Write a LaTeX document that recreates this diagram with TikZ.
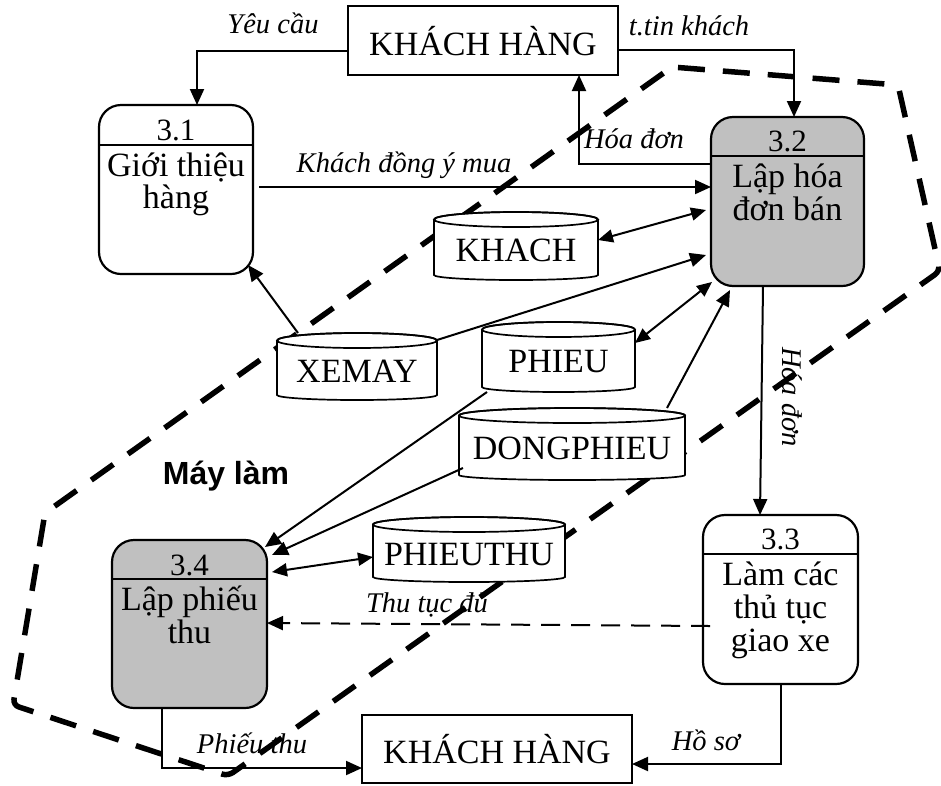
\documentclass[tikz,border=0pt]{standalone}
\usepackage{fontspec}
\setmainfont{Liberation Serif}
\newfontfamily\headsans{Liberation Sans}
\usetikzlibrary{arrows.meta}
\definecolor{procgray}{RGB}{192,192,192}

% data store drawn as a drum: #1 = node name, #2 = half width (pt)
\newcommand\drumstore[2]{%
  \filldraw[storeline, fill=white]
    ([yshift=-7.5pt]#1.north west) -- ([yshift=5pt]#1.south west)
    arc[start angle=180, end angle=360, x radius=#2pt, y radius=5pt]
    -- ([yshift=-7.5pt]#1.north east)
    arc[start angle=0, end angle=180, x radius=#2pt, y radius=7.5pt] -- cycle;
  \draw[storeline] ([yshift=-7.5pt]#1.north) ellipse [x radius=#2pt, y radius=7.5pt];
}

\begin{document}
\begin{tikzpicture}[x=1pt, y=-1pt,
  every node/.style={inner sep=0pt, outer sep=0pt},
  flow/.style={line width=2pt, -{Triangle[length=16pt,width=14pt]}},
  dflow/.style={line width=2pt, {Triangle[length=15pt,width=13pt]}-{Triangle[length=15pt,width=13pt]}},
  entity/.style={draw, line width=2pt, fill=white, minimum width=270pt, minimum height=69pt,
    font=\fontsize{34}{36}\selectfont, text height=29pt, text depth=0pt},
  proc/.style={draw, line width=2.2pt, rounded corners=22pt, minimum width=154pt, minimum height=169pt},
  sepline/.style={line width=2.2pt},
  procnum/.style={font=\fontsize{31}{33}\selectfont, anchor=base},
  proctext/.style={font=\fontsize{34}{36}\selectfont, anchor=base},
  storearea/.style={minimum height=68pt},
  storetext/.style={font=\fontsize{34}{36}\selectfont, text height=31pt, text depth=0pt},
  storeline/.style={line width=1.7pt},
  flowlabel/.style={font=\itshape\fontsize{28.5}{30}\selectfont, anchor=base},
  boundary/.style={line width=5.5pt, dash pattern=on 27pt off 18pt, rounded corners=6pt}
]
\fill[white] (0,0) rectangle (941,785);
\useasboundingbox (0,0) rectangle (941,785);

% automated part boundary
\draw[boundary] (672,67) -- (898,85) -- (940,271) -- (228,776) -- (13,705) -- (45,513) -- cycle;

% external entities
\node[entity] (kh1) at (483,40.5) {KHÁCH HÀNG};
\node[entity, minimum height=68pt] (kh2) at (497,749) {KHÁCH HÀNG};

% processes
\node[proc, fill=white] (p31) at (176,189.5) {};
\draw[sepline] (p31.west |- 0,145) -- (p31.east |- 0,145);
\node[procnum] (p31n) at (176,140) {3.1};
\node[proctext] (p31a) at (176,176) {Giới thiệu};
\node[proctext] (p31b) at (176,208) {hàng};

\node[proc, fill=procgray, minimum width=153pt] (p32) at (787.5,201.5) {};
\draw[sepline] (p32.west |- 0,156) -- (p32.east |- 0,156);
\node[procnum] (p32n) at (787.5,151) {3.2};
\node[proctext] (p32a) at (787.5,187) {Lập hóa};
\node[proctext] (p32b) at (787.5,220) {đơn bán};

\node[proc, fill=white, minimum width=155pt] (p33) at (780.5,599.5) {};
\draw[sepline] (p33.west |- 0,554) -- (p33.east |- 0,554);
\node[procnum] (p33n) at (780.5,549) {3.3};
\node[proctext] (p33a) at (780.5,585) {Làm các};
\node[proctext] (p33b) at (780.5,618) {thủ tục};
\node[proctext] (p33c) at (780.5,651) {giao xe};

\node[proc, fill=procgray, minimum width=155pt, minimum height=168pt] (p34) at (189.5,624) {};
\draw[sepline] (p34.west |- 0,579) -- (p34.east |- 0,579);
\node[procnum] (p34n) at (189.5,575) {3.4};
\node[proctext] (p34a) at (189.5,610) {Lập phiếu};
\node[proctext] (p34b) at (189.5,643) {thu};

% data stores
\path node[storearea, minimum width=164pt] (khach) at (516,246) {};
\drumstore{khach}{82}
\node[storetext] (khachtxt) at (khach.center) {KHACH};

\path node[storearea, minimum width=160pt, minimum height=67pt] (xemay) at (357,366.5) {};
\drumstore{xemay}{80}
\node[storetext] (xemaytxt) at (xemay.center) {XEMAY};

\path node[storearea, minimum width=153pt, minimum height=70pt] (phieu) at (558.5,357) {};
\drumstore{phieu}{76.5}
\node[storetext] (phieutxt) at (phieu.center) {PHIEU};

\path node[storearea, minimum width=226pt, minimum height=72pt] (dongphieu) at (572,444) {};
\drumstore{dongphieu}{113}
\node[storetext] (dongphieutxt) at (dongphieu.center) {DONGPHIEU};

\path node[storearea, minimum width=192pt, minimum height=65pt] (phieuthu) at (469,549.5) {};
\drumstore{phieuthu}{96}
\node[storetext] (phieuthutxt) at (phieuthu.center) {PHIEUTHU};

% data flows
\draw[flow] (kh1.west |- 0,51) -| (197,0 |- p31.north);
\draw[flow] (kh1.east |- 0,50) -| (794,0 |- p32.north);
\draw[flow] (p32.west |- 0,164) -| (579,0 |- kh1.south);
\draw[flow] ([xshift=6pt]p31.east |- 0,187) -- (p32.west |- 0,187);
\draw[dflow] (khach.east |- 0,240) -- ([xshift=-5pt]p32.west |- 0,210);
\draw[flow] (xemay.east |- 0,340) -- ([xshift=-5pt]p32.west |- 0,255);
\draw[flow] (298,0 |- xemay.north) -- ([shift={(-5,-9)}]p31.south east);
\draw[dflow] (phieu.east |- 0,343) -- ([shift={(1,-4)}]p32.south west);
\draw[flow] (667,0 |- dongphieu.north) -- ([shift={(19,4)}]p32.south west);
\draw[flow] (487,0 |- phieu.south) -- ([shift={(-2,7)}]p34.north east);
\draw[flow] ([xshift=4pt]dongphieu.west |- 0,468) -- ([shift={(5,15)}]p34.north east);
\draw[dflow] (phieuthu.west |- 0,557) -- ([shift={(5,32)}]p34.north east);
\draw[flow] (763,0 |- p32.south) -- (760,0 |- p33.north);
\draw[flow, dash pattern=on 19pt off 11pt] ([xshift=7pt]p33.west |- 0,626) -- (p34.east |- 0,623);
\draw[flow] (781,0 |- p33.south) |- (kh2.east |- 0,764);
\draw[flow] (162,0 |- p34.south) |- (kh2.west |- 0,768);

% flow labels
\node[flowlabel] (lyc) at (273,33) {Yêu cầu};
\node[flowlabel] (ltt) at (689,35) {t.tin khách};
\node[flowlabel] (lhd1) at (634,148) {Hóa đơn};
\node[flowlabel] (lkd) at (404,172) {Khách đồng ý mua};
\node[font=\itshape\fontsize{28.5}{30}\selectfont, rotate=-90] (lhd2) at (792,397) {Hóa đơn};
\node[flowlabel] (ltd) at (427,612) {Thu tục đủ};
\node[flowlabel] (lpt) at (252,753) {Phiếu thu};
\node[flowlabel] (lhs) at (706,750) {Hồ sơ};
\node[font=\headsans\bfseries\fontsize{32}{34}\selectfont, anchor=base] (lml) at (226,484) {Máy làm};
\end{tikzpicture}
\end{document}
